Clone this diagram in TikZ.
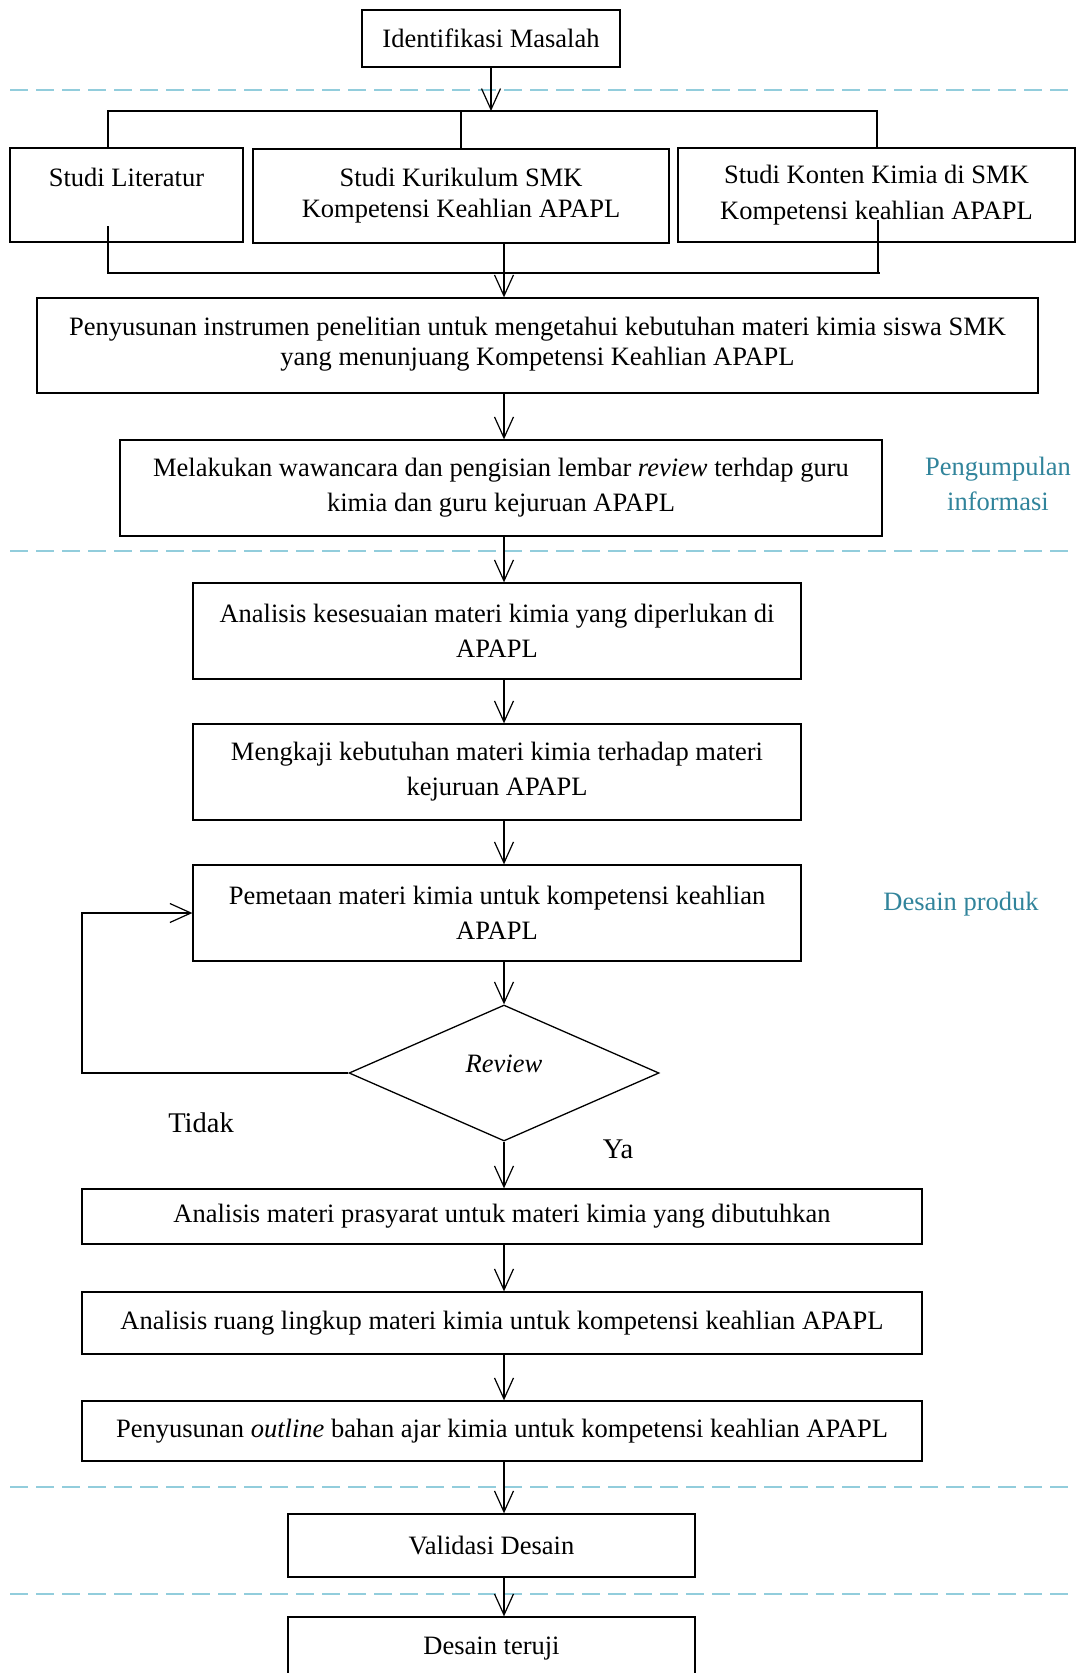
\documentclass[tikz,border=0pt]{standalone}
\usepackage{fontspec}
\setmainfont{Liberation Serif}
\usepackage{xcolor}
\usetikzlibrary{shapes.geometric,arrows.meta}
\definecolor{phaseblue}{HTML}{31849B}
\definecolor{phaseline}{HTML}{92CDDC}
\newcommand{\boxfont}{\fontsize{26.5}{35}\selectfont}

\begin{document}
\begin{tikzpicture}[x=1pt,y=-1pt,
  stepbox/.style={draw,line width=1.3pt,inner sep=0,align=center,font=\boxfont},
  decision/.style={draw,diamond,line width=1.3pt,inner sep=0,minimum width=310,minimum height=136,text depth=18pt,font=\boxfont},
  arr/.style={line width=1.2pt,-{Straight Barb[length=21pt,width=19pt,line width=1.2pt]}},
  bus/.style={line width=2.2pt},
  phase/.style={phaseline,line width=2.5pt,dash pattern=on 18pt off 8pt},
  phaselabel/.style={text=phaseblue,align=center,font=\boxfont}]
  \useasboundingbox(0,0)rectangle(1076,1673);
  \clip(0,0)rectangle(1076,1673);
  \foreach \y in {90,551,1487,1594}
    \draw[phase](10,\y)--(1076,\y);
  \node[stepbox,minimum width=258,minimum height=57](identifikasi)at(491,38.5){Identifikasi Masalah};
  \node[stepbox,minimum width=233,minimum height=94](literatur)at(126.5,195){Studi Literatur\\\mbox{}};
  \node[stepbox,minimum width=416,minimum height=94,font=\fontsize{26.5}{31}\selectfont](kurikulum)at(461,196){Studi Kurikulum SMK\\Kompetensi Keahlian APAPL};
  \node[stepbox,minimum width=397,minimum height=94,font=\fontsize{26.5}{36}\selectfont](konten)at(876.5,195){Studi Konten Kimia di SMK\\Kompetensi keahlian APAPL};
  \node[stepbox,minimum width=1001,minimum height=95,font=\fontsize{26.5}{30}\selectfont,text depth=9pt](penyusunan)at(537.5,345.5){Penyusunan instrumen penelitian untuk mengetahui kebutuhan materi kimia siswa SMK\\yang menunjuang Kompetensi Keahlian APAPL};
  \node[stepbox,minimum width=762,minimum height=96](melakukan)at(501,488){Melakukan wawancara dan pengisian lembar \textit{review} terhdap guru\\kimia dan guru kejuruan APAPL};
  \node[phaselabel](pengumpulan)at(998,484){Pengumpulan\\informasi};
  \node[stepbox,minimum width=608,minimum height=96](kesesuaian)at(497,631){Analisis kesesuaian materi kimia yang diperlukan di\\APAPL};
  \node[stepbox,minimum width=608,minimum height=96](mengkaji)at(497,772){Mengkaji kebutuhan materi kimia terhadap materi\\kejuruan APAPL};
  \node[stepbox,minimum width=608,minimum height=96](pemetaan)at(497,913){Pemetaan materi kimia untuk kompetensi keahlian\\APAPL};
  \node[phaselabel](desain)at(961,904){Desain produk};
  \node[decision](review)at(504,1073){\textit{Review}};
  \node[font=\fontsize{28.5}{34}\selectfont](tidak)at(201,1123){Tidak};
  \node[font=\fontsize{28.5}{34}\selectfont](ya)at(618,1149){Ya};
  \node[stepbox,minimum width=840,minimum height=55](prasyarat)at(502,1216.5){Analisis materi prasyarat untuk materi kimia yang dibutuhkan};
  \node[stepbox,minimum width=840,minimum height=62](lingkup)at(502,1323){Analisis ruang lingkup materi kimia untuk kompetensi keahlian APAPL};
  \node[stepbox,minimum width=840,minimum height=60](outline)at(502,1431){Penyusunan \textit{outline} bahan ajar kimia untuk kompetensi keahlian APAPL};
  \node[stepbox,minimum width=407,minimum height=63](validasi)at(491.5,1545.5){Validasi Desain};
  \node[stepbox,minimum width=407,minimum height=63](teruji)at(491.5,1648.5){Desain teruji};
  \coordinate(spine)at(504,0);
  \coordinate(topL)at(108,111);\coordinate(topR)at(877,111);
  \coordinate(litend)at(108,226);\coordinate(konend)at(878,220);
  \coordinate(botL)at(108,273);\coordinate(botR)at(880,273);
  \coordinate(loopx)at(82,0);
  \draw[arr](identifikasi)--(identifikasi|-topL);
  \draw[bus](literatur.north-|topL)--(topL)--(topR)--(konten.north-|topR);
  \draw[bus](kurikulum.north)--(kurikulum.north|-topL);
  \draw[bus](litend)--(botL)--(botR);
  \draw[bus](konend)--(konend|-botR);
  \draw[arr](kurikulum.south-|spine)--(penyusunan.north-|spine);
  \foreach \a/\b in {penyusunan/melakukan,melakukan/kesesuaian,kesesuaian/mengkaji,mengkaji/pemetaan,pemetaan/review,review/prasyarat,prasyarat/lingkup,lingkup/outline,outline/validasi,validasi/teruji}
    \draw[arr](\a.south-|spine)--(\b.north-|spine);
  \draw[arr,bus](review.west)--(review.west-|loopx)|-(pemetaan.west);
\end{tikzpicture}
\end{document}
